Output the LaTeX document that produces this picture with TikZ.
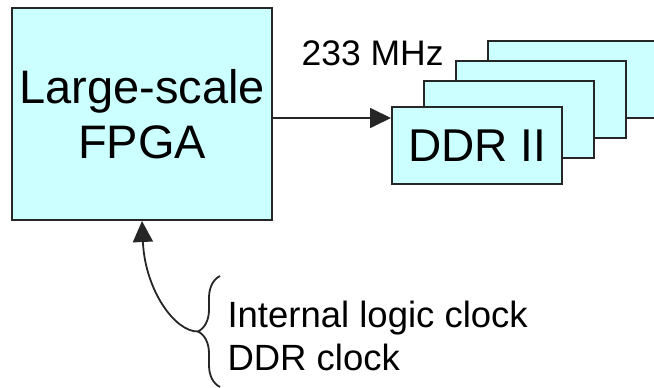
\documentclass[tikz,border=0pt]{standalone}
\usepackage{fontspec}
\setmainfont{Liberation Sans}
\usetikzlibrary{arrows.meta,decorations.pathreplacing}
\definecolor{chipcyan}{HTML}{CCFFFF}

\begin{document}
\begin{tikzpicture}[x=1pt,y=-1pt,
    blk/.style={draw=black!85,line width=2pt,fill=chipcyan,inner sep=0pt},
    chip/.style={blk,minimum width=170pt,minimum height=77pt},
    tri/.style={-{Triangle[length=21pt,width=20pt]},line width=1.8pt,draw=black!85}]
     \clip (0,0) rectangle (654,388);
     \node[blk,minimum width=260pt,minimum height=212pt,align=center,
           font=\fontsize{47}{55}\selectfont] (fpga) at (142,114) {Large-scale\\FPGA};
     % memory chips, back to front
     \node[chip] (ddr4) at (573,79) {};
     \node[chip] (ddr3) at (541,99.5) {};
     \node[chip] (ddr2) at (509,119) {};
     \node[chip,font=\fontsize{46}{55}\selectfont] (ddr1) at (477,145.5) {DDR II};
     \node[anchor=base west,font=\fontsize{35.5}{42}\selectfont] (freq) at (298,65) {233 MHz};
     \draw[tri] ([yshift=-4pt]fpga.east) -- ([yshift=-4pt]fpga.east -| ddr1.west);
     % clocks
     \draw[decorate,decoration={brace,amplitude=22pt},line width=1.8pt,black!85] (220,387) -- (220,276);
     \coordinate (bracetip) at (198,331.5);
     \node[anchor=base west,font=\fontsize{36.5}{43}\selectfont] (intclk) at (224,327) {Internal logic clock};
     \node[anchor=base west,font=\fontsize{36.5}{43}\selectfont] (ddrclk) at (224,370) {DDR clock};
     \draw[tri] (bracetip) .. controls (175,332) and (145,290) .. (fpga.south);
    \end{tikzpicture}
\end{document}
